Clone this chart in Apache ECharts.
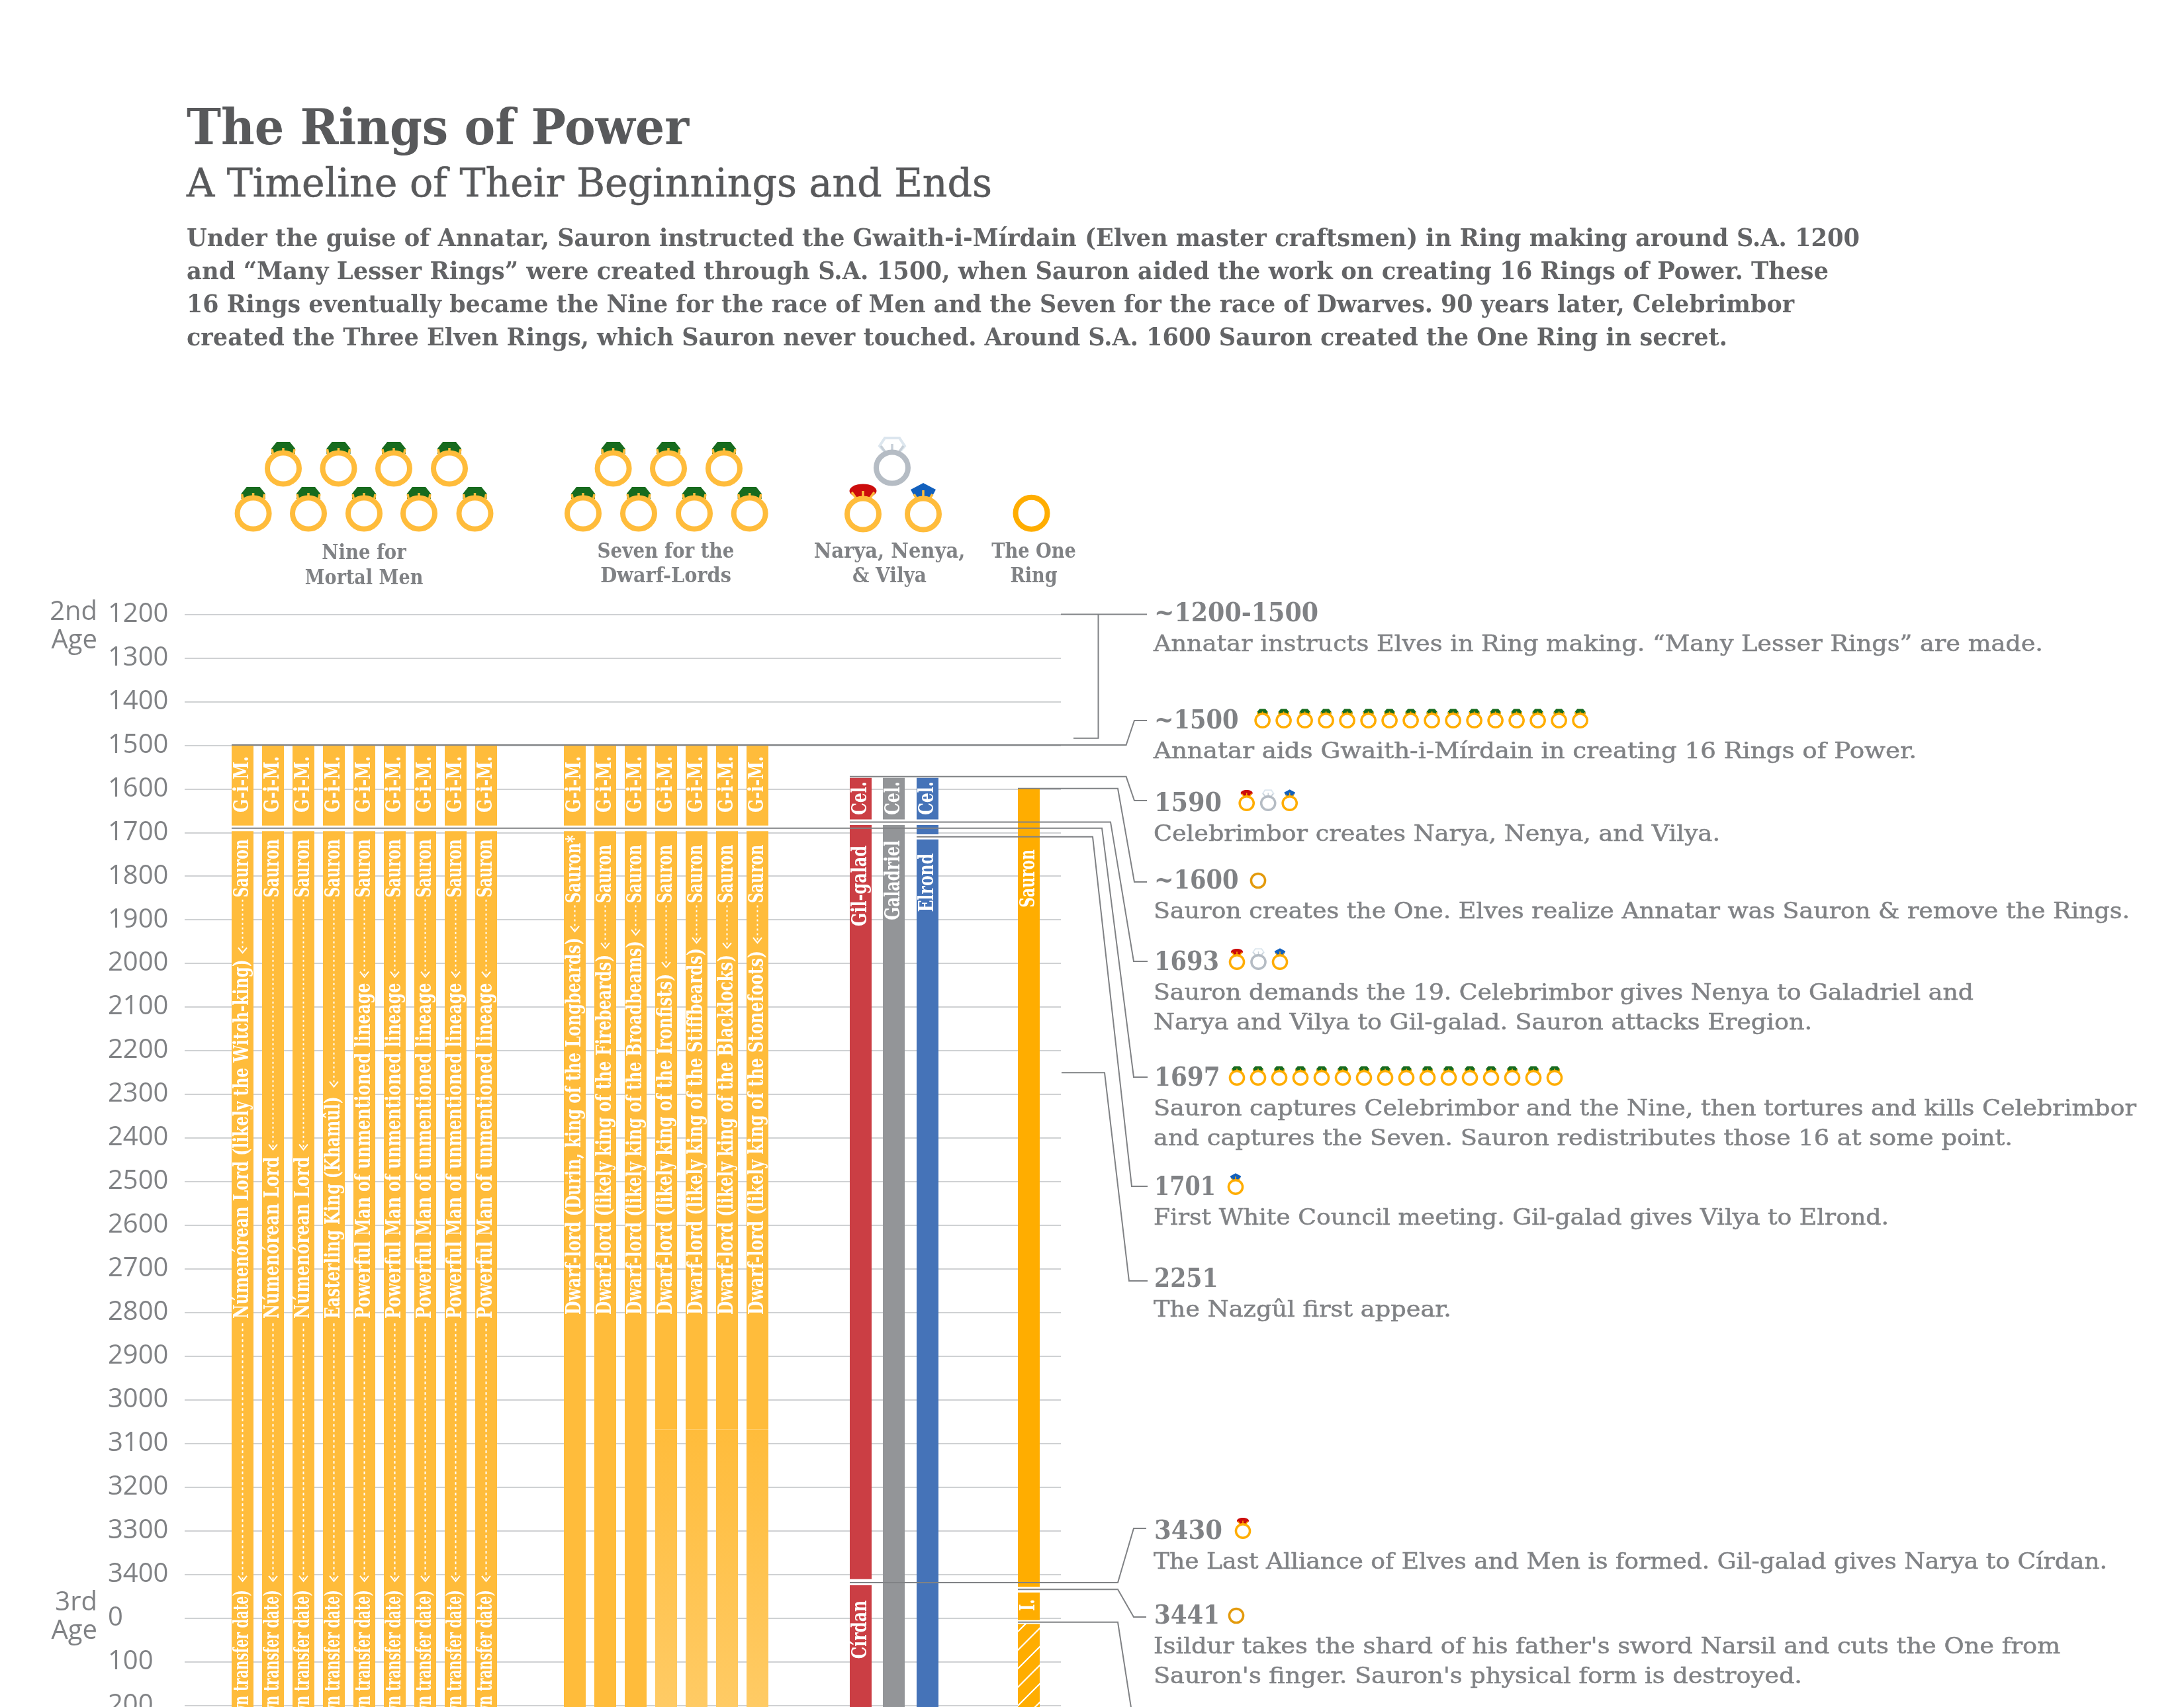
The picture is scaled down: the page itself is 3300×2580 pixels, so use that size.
<!DOCTYPE html>
<html><head><meta charset="utf-8">
<style>html,body{margin:0;padding:0;background:#fff}#c{width:3300px;height:2580px}</style>
<script src="https://cdn.jsdelivr.net/npm/echarts@6/dist/echarts.min.js"></script>
</head><body><div id="c"></div>
<script>
// ---------- chart values (S.A. years; 3rd-Age years continue after 3500) ----------
const menHolders = ['Númenórean Lord (likely the Witch-king)','Númenórean Lord','Númenórean Lord','Easterling King (Khamûl)',
  'Powerful Man of unmentioned lineage','Powerful Man of unmentioned lineage','Powerful Man of unmentioned lineage','Powerful Man of unmentioned lineage','Powerful Man of unmentioned lineage'];
const menArrowTips = [1976,2427,2427,2283,2031,2031,2031,2031,2031];
const menLabelEnds = [1991,2443,2443,2305,2045,2045,2045,2045,2045];
const dwarfHolders = ['Dwarf-lord (Durin, king of the Longbeards)','Dwarf-lord (likely king of the Firebeards)','Dwarf-lord (likely king of the Broadbeams)','Dwarf-lord (likely king of the Ironfists)','Dwarf-lord (likely king of the Stiffbeards)','Dwarf-lord (likely king of the Blacklocks)','Dwarf-lord (likely king of the Stonefoots)'];
const dwarfArrowTips = [1927,1965,1935,2009,1953,1965,1953];
const dwarfLabelEnds = [1941,1980,1948,2024,1965,1980,1971];
const dwarfFadeFlags = [0,0,0,1,1,1,1];
const giftSpan = [1501,1684];
const captureStart = 1697;
const fadeStart = 3068;
const axisEnd = 3710;
const narya = [['Cel.',1575,1670,1660,1583],['Gil-galad',1683,3411,1915,1730],['Círdan',3425,axisEnd,3594,3460]];
const nenya = [['Cel.',1575,1670,1660,1583],['Galadriel',1683,axisEnd,1901,1718]];
const vilya = [['Cel.',1575,1670,1660,1583],['',1683,1704,0,0],['Elrond',1716,axisEnd,1882,1748]];
const oneRing = [['Sauron',1599,3429,1872,1739],['I.',3442,3505,3484,3457]];
const oneLost = [3514,axisEnd];
const yearTicks = {min:1200,interval:100,thirdAgeZero:3500};
const eventYears = ['~1200-1500','~1500','1590','~1600','1693','1697','1701','2251','3430','3441'];
const eventNotes = [
 ['Annatar instructs Elves in Ring making. “Many Lesser Rings” are made.'],
 ['Annatar aids Gwaith-i-Mírdain in creating 16 Rings of Power.'],
 ['Celebrimbor creates Narya, Nenya, and Vilya.'],
 ['Sauron creates the One. Elves realize Annatar was Sauron & remove the Rings.'],
 ['Sauron demands the 19. Celebrimbor gives Nenya to Galadriel and','Narya and Vilya to Gil-galad. Sauron attacks Eregion.'],
 ['Sauron captures Celebrimbor and the Nine, then tortures and kills Celebrimbor','and captures the Seven. Sauron redistributes those 16 at some point.'],
 ['First White Council meeting. Gil-galad gives Vilya to Elrond.'],
 ['The Nazgûl first appear.'],
 ['The Last Alliance of Elves and Men is formed. Gil-galad gives Narya to Círdan.'],
 ["Isildur takes the shard of his father's sword Narsil and cuts the One from","Sauron's finger. Sauron's physical form is destroyed."]];
const eventRingKinds = ['none','green16','trio','one','trio','green16','blue','none','red','one'];
const calloutValues = [1499.5,1572,1599.3,1676,1690,1710,2250.5,3419,3434.7,3509.7];
const bracketValues = [1200,1484];
const titleText = 'The Rings of Power';
const subtitleText = 'A Timeline of Their Beginnings and Ends';
const introLines = ['Under the guise of Annatar, Sauron instructed the Gwaith-i-Mírdain (Elven master craftsmen) in Ring making around S.A. 1200',
 'and “Many Lesser Rings” were created through S.A. 1500, when Sauron aided the work on creating 16 Rings of Power. These',
 '16 Rings eventually became the Nine for the race of Men and the Seven for the race of Dwarves. 90 years later, Celebrimbor',
 'created the Three Elven Rings, which Sauron never touched. Around S.A. 1600 Sauron created the One Ring in secret.'];

// ---------- layout and style ----------
const FONT='"DejaVu Serif Condensed"', GREY='#808285', DARK='#58595B', PARA='#636466';
const GOLD='#FFBC3B', ONE='#FFAD00', RED='#CB3E44', STEEL='#939598', BLUE='#4573B8';
const PX_PER_YEAR=0.6595, GRID_TOP=928.5, GRID_H=(axisEnd-yearTicks.min)*PX_PER_YEAR;
const BAR_W=33;
const mc=document.createElement('canvas').getContext('2d');
const tw=(t,s,w)=>{mc.font=`${w} ${s}px ${FONT}`;mc.textBaseline='alphabetic';return mc.measureText(t).width;};
const midOff=(s,w)=>{mc.font=`${w} ${s}px ${FONT}`;mc.textBaseline='middle';const d=mc.measureText('H').actualBoundingBoxDescent;mc.textBaseline='alphabetic';return d;};
function T(text,x,base,size,weight,fill,width,align){
  const sx=width?width/tw(text,size,weight):1;
  const style={text,fontFamily:FONT,fontSize:size,fontWeight:weight,fill,align:align||'left',verticalAlign:'middle'};
  if(weight==='normal'){style.stroke=fill;style.lineWidth=0.5;}
  return {type:'text',silent:true,x,y:base-midOff(size,weight),scaleX:sx,style};
}
function ring(cx,cy,kind,s,metal){
  const k=[];
  const prong=(x1,y1,x2,y2,c)=>({type:'line',shape:{x1,y1,x2,y2},style:{stroke:c||metal,lineWidth:3.5}});
  const band=kind==='pale'?'#B5BCC4':metal;
  if(kind==='green'){
    k.push({type:'polygon',shape:{points:[[-10,-40],[10,-40],[18,-30],[18,-22],[-18,-22],[-18,-30]]},style:{fill:'#176B1E'}});
    k.push(prong(0,-31,0,-22),prong(-17,-29,-15,-19),prong(17,-29,15,-19));
  } else if(kind==='red'){
    k.push({type:'ellipse',shape:{cx:0,cy:-35,rx:20.5,ry:10.5},style:{fill:'#CC0C0C'}});
    k.push({type:'polygon',shape:{points:[[-18,-31],[18,-31],[10,-24],[-10,-24]]},style:{fill:'#CC0C0C'}});
    k.push(prong(0,-35,0,-20),prong(-17,-33,-9,-22),prong(17,-33,9,-22));
  } else if(kind==='blue'){
    k.push({type:'polygon',shape:{points:[[0,-47],[19,-37],[12,-24],[-12,-24],[-19,-37]]},style:{fill:'#1260BD'}});
    k.push(prong(0,-36,0,-20),prong(-14,-30,-9,-22),prong(14,-30,9,-22));
  } else if(kind==='pale'){
    k.push({type:'polygon',shape:{points:[[-11,-45],[11,-45],[19,-33],[11,-24],[-11,-24],[-19,-33]]},style:{fill:'#fff',stroke:'#DCE6EE',lineWidth:4}});
    k.push(prong(0,-36,0,-20,'#C8D0D8'),prong(-17,-33,-9,-22,'#C8D0D8'),prong(17,-33,9,-22,'#C8D0D8'));
  }
  k.push({type:'ellipse',shape:{cx:0,cy:0,rx:kind==='one'?24:24,ry:kind==='one'?24:23.5},style:{fill:'none',stroke:band,lineWidth:8}});
  return {type:'group',silent:true,x:cx,y:cy,scaleX:s,scaleY:s,children:k};
}
const graphics=[];
graphics.push(T(titleText,282,218,75,'bold',DARK,759));
graphics.push(T(subtitleText,282,297,60,'normal',DARK,1217));
const introB=[372,422,472,522], introW=[2528,2481,2429,2328];
introLines.forEach((l,i)=>graphics.push(T(l,282,introB[i],37,'bold',PARA,introW[i])));
[[428,708],[511.5,708],[595,708],[679,708],[382.6,776],[466,776],[550,776],[633,776],[717.5,776],
 [926.6,708],[1010,708],[1094,708],[881,776],[965,776],[1049,776],[1132.7,776]].forEach(p=>graphics.push(ring(p[0],p[1],'green',1,GOLD)));
graphics.push(ring(1348,707,'pale',1,GOLD),ring(1304,777,'red',1,GOLD),ring(1395,777,'blue',1,GOLD),ring(1558.5,775.7,'one',1,ONE));
[['Nine for',550,845,127.5],['Mortal Men',550,882.5,178.6],['Seven for the',1006,843,207],['Dwarf-Lords',1006,880,197.7],
 ['Narya, Nenya,',1344,843,228.7],['& Vilya',1344,880,112],['The One',1562,843,127.7],['Ring',1562,880,71]]
 .forEach(a=>graphics.push(T(a[0],a[1],a[2],31,'bold',GREY,a[3],'center')));
const ageStyle=t=>({text:t,fontFamily:'Open Sans',fontSize:40,fill:GREY,align:'right',verticalAlign:'middle'});
graphics.push({type:'text',silent:true,x:147,y:926,style:ageStyle('2nd')},
 {type:'text',silent:true,x:147,y:969,style:ageStyle('Age')},
 {type:'text',silent:true,x:147,y:2423,style:ageStyle('3rd')},
 {type:'text',silent:true,x:147,y:2466,style:ageStyle('Age')});
const yearCenter=[926,1088,1213,1330,1453,1628,1793,1932,2313,2441];
const yearW=[248,127.5,102,127.5,98,99.5,93,96.7,103,99];
const noteW=[[1344],[1153],[856],[1475],[1239,995],[1485,1298],[1111],[450],[1441],[1370,980]];
const ringStart=[0,1907.6,1883.7,1901,1869,1869,1867,0,1878,1868];
eventYears.forEach((y,i)=>{
  graphics.push(T(y,1744,yearCenter[i]+13,39,'bold',GREY,yearW[i]));
  eventNotes[i].forEach((l,j)=>graphics.push(T(l,1743,yearCenter[i]+57.5+j*45.7,34,'normal',GREY,noteW[i][j])));
  const k=eventRingKinds[i],x0=ringStart[i],cy=yearCenter[i]+1,s=0.44;
  if(k==='green16') for(let r=0;r<16;r++) graphics.push(ring(x0+r*32,cy,'green',s,ONE));
  if(k==='trio'){['red','pale','blue'].forEach((g,r)=>graphics.push(ring(x0+r*32.5,cy,g,s,ONE)));}
  if(k==='one') graphics.push(ring(x0,cy,'one',s,'#E39A0C'));
  if(k==='red'||k==='blue') graphics.push(ring(x0,cy,k,s,ONE));
});

// hatch for the lost One Ring
const hatch=document.createElement('canvas');hatch.width=hatch.height=28;
(function(){const c=hatch.getContext('2d');c.fillStyle=ONE;c.fillRect(0,0,28,28);c.strokeStyle='#fff';c.lineWidth=2.2;
 c.beginPath();c.moveTo(-4,32);c.lineTo(32,-4);c.moveTo(-4,4);c.lineTo(4,-4);c.moveTo(24,32);c.lineTo(32,24);c.stroke();})();

// ---------- series rows built from the value arrays ----------
function row(cat,start,end,fill,labels,extra){return Object.assign({cat,start,end,fill,labels:labels||[]},extra||{});}
const fadeFill={type:'linear',x:0,y:0,x2:0,y2:1,colorStops:[{offset:0,color:GOLD},{offset:1,color:'#FFCB65'}]};
const menRows=[],dwarfRows=[],elfRows=[],oneRows=[];
menHolders.forEach((h,i)=>{
  menRows.push(row(i,giftSpan[0],giftSpan[1],GOLD,[{t:'G-i-M.',a:1654,b:1525}]));
  menRows.push(row(i,captureStart,axisEnd,GOLD,[
    {t:h,a:2814,b:menLabelEnds[i]},{t:'Sauron',a:1849,b:1715},{t:'(unknown transfer date)',a:3845,b:3436}],
    {arrows:[[1854,menArrowTips[i],[3,4]],[2825,3416,[4,4]]]}));
});
dwarfHolders.forEach((h,i)=>{
  dwarfRows.push(row(i,giftSpan[0],giftSpan[1],GOLD,[{t:'G-i-M.',a:1654,b:1525}]));
  const sauron=i===0?{t:'Sauron*',a:1862,b:1706}:{t:'Sauron',a:1862,b:1728};
  if(dwarfFadeFlags[i]){
    dwarfRows.push(row(i,captureStart,fadeStart,GOLD,[{t:h,a:2805,b:dwarfLabelEnds[i]},sauron],{arrows:[[1867,dwarfArrowTips[i],[3,4]]]}));
    dwarfRows.push(row(i,fadeStart,axisEnd,fadeFill));
  } else {
    dwarfRows.push(row(i,captureStart,axisEnd,GOLD,[{t:h,a:2805,b:dwarfLabelEnds[i]},sauron],{arrows:[[1867,dwarfArrowTips[i],[3,4]]]}));
  }
});
[[narya,RED],[nenya,STEEL],[vilya,BLUE]].forEach((p,i)=>p[0].forEach(s=>elfRows.push(row(i,s[1],s[2],p[1],s[0]?[{t:s[0],a:s[3],b:s[4]}]:[]))));
oneRing.forEach(s=>oneRows.push(row(0,s[1],s[2],ONE,[{t:s[0],a:s[3],b:s[4]}])));
oneRows.push(row(0,oneLost[0],oneLost[1],{image:hatch,repeat:'repeat'}));

function barSeries(rows,axis){
  return {type:'custom',xAxisIndex:axis,yAxisIndex:axis,z:3,silent:true,
    encode:{x:0,y:[1,2]},
    data:rows.map(r=>[r.cat,r.start,r.end]),
    renderItem(params,api){
      const r=rows[params.dataIndex];
      const p0=api.coord([api.value(0),api.value(1)]),p1=api.coord([api.value(0),api.value(2)]);
      const cx=Math.round(p0[0]-16.5)+16.5;
      const kids=[{type:'rect',shape:{x:cx-BAR_W/2,y:p0[1],width:BAR_W,height:p1[1]-p0[1]},style:{fill:r.fill}}];
      (r.arrows||[]).forEach(a=>{
        const y0=api.coord([api.value(0),a[0]])[1],y1=api.coord([api.value(0),a[1]])[1];
        kids.push({type:'line',shape:{x1:cx,y1:y0,x2:cx,y2:y1-3},style:{stroke:'#fff',lineWidth:2,lineDash:a[2]}});
        kids.push({type:'polyline',shape:{points:[[cx-6.5,y1-8],[cx,y1],[cx+6.5,y1-8]]},style:{stroke:'#fff',lineWidth:2,fill:'none'}});
      });
      r.labels.forEach(l=>{
        const ya=api.coord([api.value(0),l.a])[1],yb=api.coord([api.value(0),l.b])[1];
        const size=31;
        kids.push({type:'text',x:cx+0.5,y:ya,rotation:Math.PI/2,scaleX:(ya-yb)/tw(l.t,size,'bold'),
          style:{text:l.t,fontFamily:FONT,fontSize:size,fontWeight:'bold',fill:'#fff',align:'left',verticalAlign:'middle'}});
      });
      return {type:'group',children:kids};
    }};
}
// callout connectors: [x-start, x-bend, x-knee, y-label, x-end]
const elbow=[[350,1701.6,1714,1089,1733],[1284,1701.6,1714,1210,1733],[1538,1689,1714,1333,1733],[1284,1678,1713,1453,1734],
 [350,1665,1713,1628,1734],[1385,1651,1710,1793,1734],[1604,1669,1706,1936,1734],[1284,1689,1713,2310,1732],[1538,1689,1713,2444,1732],[1538,1689,1712,2600,1712]];
const calloutSeries={type:'custom',xAxisIndex:0,yAxisIndex:0,z:5,silent:true,encode:{y:1},
  data:calloutValues.map((v,i)=>[i,v]),
  renderItem(params,api){
    const e=elbow[api.value(0)],y=api.coord([0,api.value(1)])[1];
    return {type:'polyline',shape:{points:[[e[0],y],[e[1],y],[e[2],e[3]],[e[4],e[3]]]},style:{stroke:GREY,lineWidth:2,fill:'none'}};
  }};
const bracketSeries={type:'custom',xAxisIndex:0,yAxisIndex:0,z:5,silent:true,encode:{y:1},
  data:[[0,bracketValues[0],bracketValues[1]]],
  renderItem(params,api){
    const a=api.coord([0,api.value(1)])[1],b=api.coord([0,api.value(2)])[1];
    return {type:'group',children:[
      {type:'polyline',shape:{points:[[1603,a],[1733,a]]},style:{stroke:GREY,lineWidth:2,fill:'none'}},
      {type:'polyline',shape:{points:[[1659.5,a],[1659.5,b],[1622,b]]},style:{stroke:GREY,lineWidth:2,fill:'none'}}]};
  }};

const grids=[[279,1324],[343.5,414],[845.5,322],[1275,151.5],[1529.5,50]];
const hiddenY=i=>({gridIndex:i,type:'value',inverse:true,min:yearTicks.min,max:axisEnd,interval:yearTicks.interval,show:false,splitLine:{show:false}});
const option={
  animation:false,backgroundColor:'#fff',
  grid:grids.map(g=>({left:g[0],width:g[1],top:GRID_TOP,height:GRID_H,outerBoundsMode:'none'})),
  xAxis:[{gridIndex:0,type:'value',min:0,max:1,show:false},
    {gridIndex:1,type:'category',data:menHolders.map((h,i)=>'Man '+(i+1)),show:false},
    {gridIndex:2,type:'category',data:dwarfHolders.map((h,i)=>'Dwarf '+(i+1)),show:false},
    {gridIndex:3,type:'category',data:['Narya','Nenya','Vilya'],show:false},
    {gridIndex:4,type:'category',data:['The One'],show:false}],
  yAxis:[{gridIndex:0,type:'value',inverse:true,min:yearTicks.min,max:axisEnd,interval:yearTicks.interval,
      axisLine:{show:false},axisTick:{show:false},
      splitLine:{show:true,lineStyle:{color:'#CFD1D3',width:2}},
      axisLabel:{align:'left',margin:116,fontFamily:'Open Sans',fontSize:40,color:GREY,showMaxLabel:false,
        formatter:v=>v%100?'':(v<=3400?String(v):String(v-yearTicks.thirdAgeZero))}},
    hiddenY(1),hiddenY(2),hiddenY(3),hiddenY(4)],
  series:[barSeries(menRows,1),barSeries(dwarfRows,2),barSeries(elfRows,3),barSeries(oneRows,4),calloutSeries,bracketSeries],
  graphic:{elements:graphics}
};
const chart=echarts.init(document.getElementById('c'),null,{renderer:'canvas',width:3300,height:2580});
chart.setOption(option);
</script></body></html>
